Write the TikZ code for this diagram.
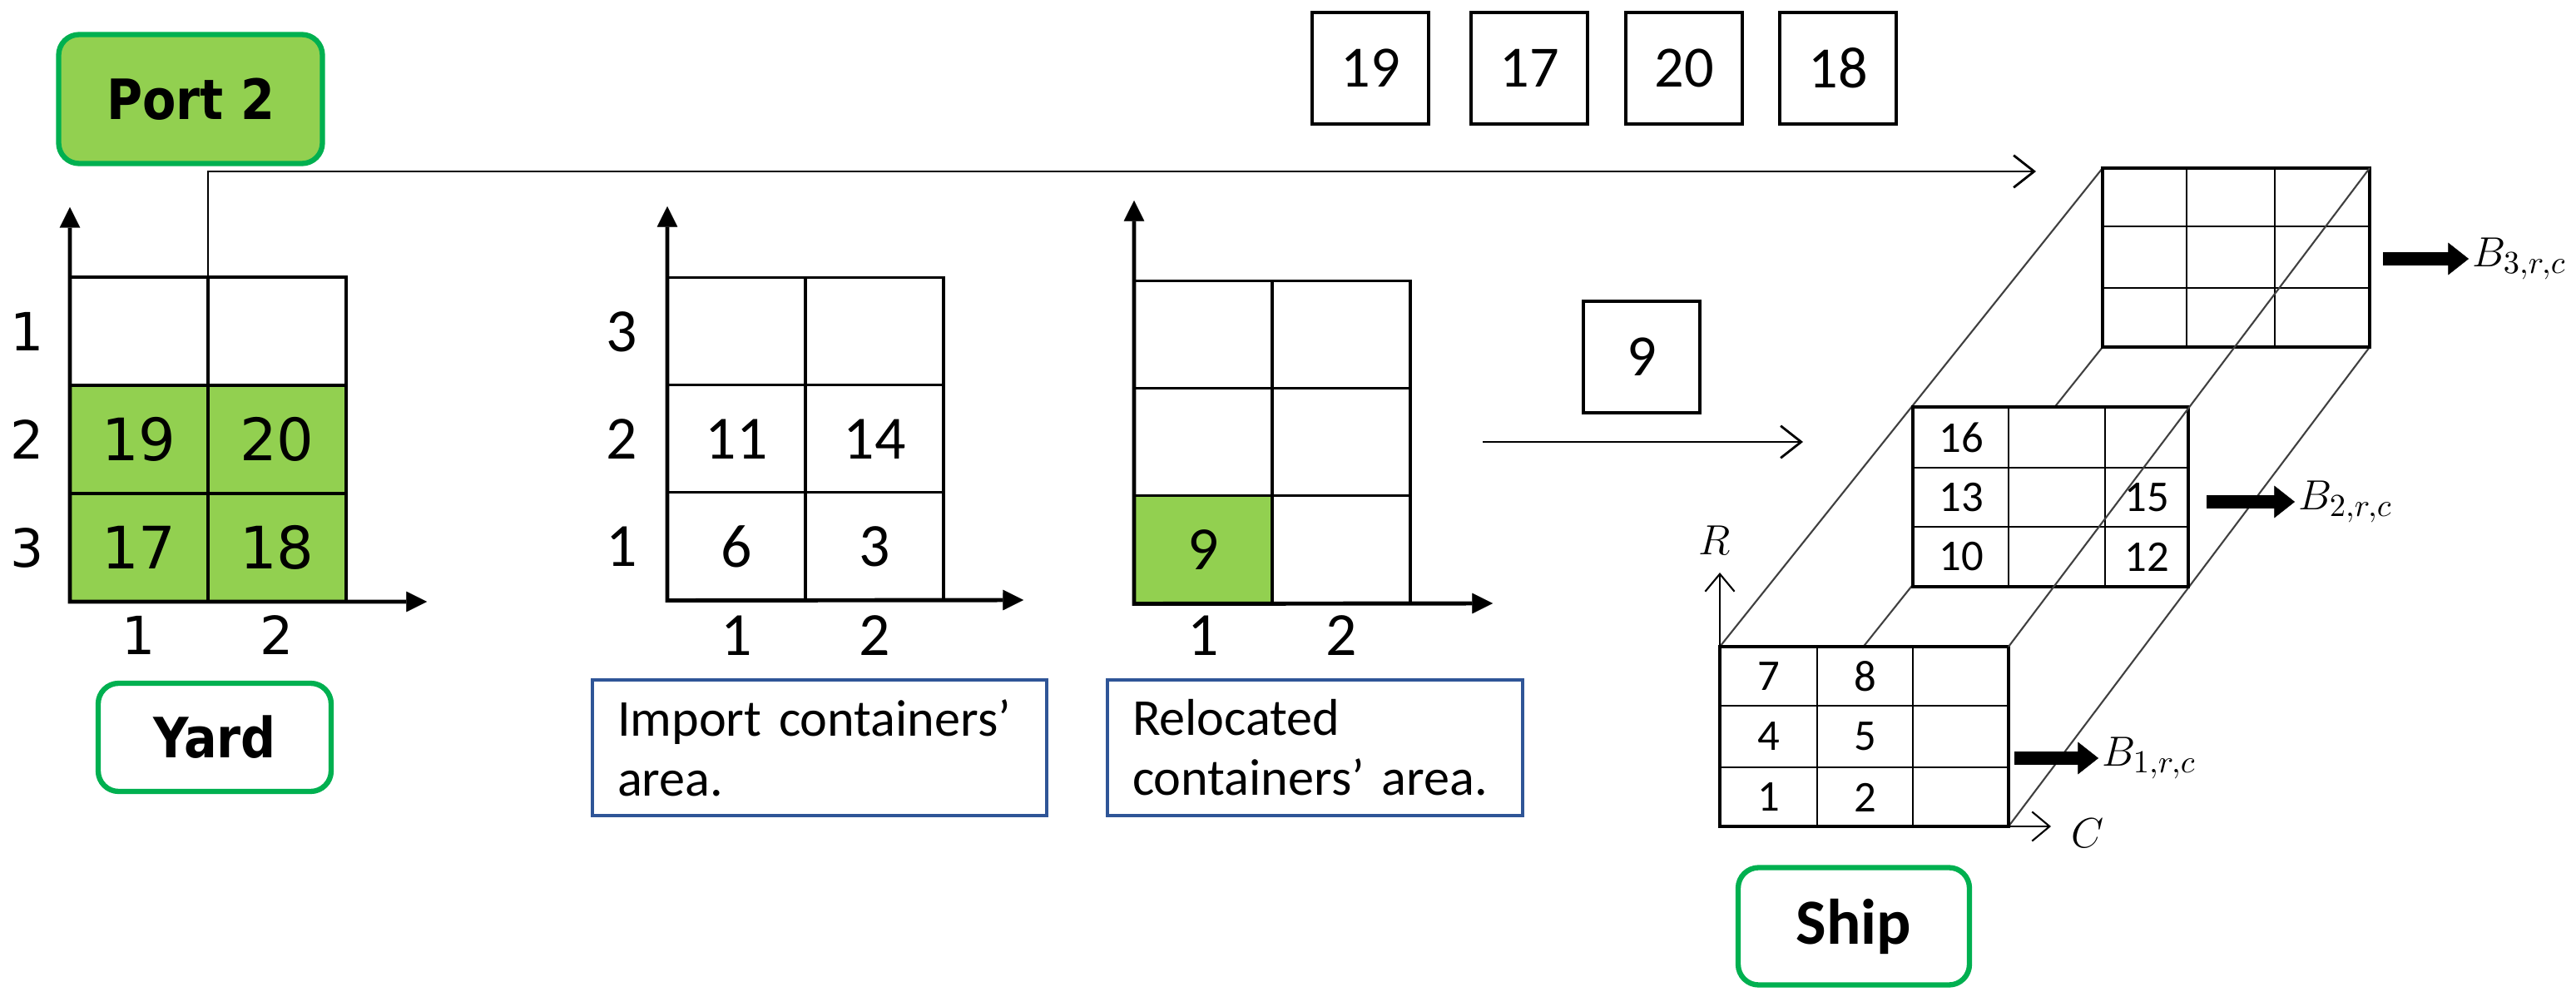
\documentclass[tikz,border=0pt]{standalone}
\usepackage{fontspec}
\setmainfont{Carlito}
\newfontfamily\verd{DejaVu Sans}
\newfontfamily\verdb[FakeStretch=0.88]{DejaVu Sans}
\usepackage{xcolor}
\usepackage{tikz}
\usetikzlibrary{arrows.meta,positioning,calc}
\definecolor{cgreen}{RGB}{146,208,80}
\definecolor{tgreen}{RGB}{0,176,80}
\definecolor{nblue}{RGB}{47,85,151}

\begin{document}
\begin{tikzpicture}[
    cell/.style={draw, line width=0.9pt, minimum width=1.66cm, minimum height=1.30cm, inner sep=0pt, outer sep=0pt},
    tag/.style={draw=tgreen, line width=1.8pt, rounded corners=7pt, inner sep=0pt, font=\verdb\bfseries\fontsize{19}{22}\selectfont},
    axis/.style={{Triangle[length=7pt,width=7pt,line width=0.1pt]}-{Triangle[length=7pt,width=7pt,line width=0.1pt]}, line width=1.4pt},
    flow/.style={-{Straight Barb[length=7pt,width=11pt]}, line width=0.8pt},
    thinax/.style={{Straight Barb[length=6pt,width=10pt]}-{Straight Barb[length=6pt,width=10pt]}, line width=0.6pt},
    cont/.style={draw, line width=1.4pt, minimum width=1.40cm, minimum height=1.34cm, font=\fontsize{20}{24}\selectfont},
    note/.style={draw=nblue, line width=0.9pt, anchor=north west, minimum height=1.63cm, inner xsep=0.3cm, outer sep=0pt, align=left, font=\fontsize{17.7}{20.5}\selectfont},
    axlbl/.style={inner sep=0pt},
    face/.style={fill=white, draw, line width=1.3pt},
    sep/.style={line width=0.8pt},
    edge3d/.style={line width=0.6pt, black!75},
    snum/.style={inner sep=0pt, font=\fontsize{15}{18}\selectfont},
    blk/.style={-{Triangle[length=7pt,width=11pt,line width=0.1pt]}, line width=4.8pt},
    lbl/.style={anchor=west, inner sep=1pt, font=\fontsize{15}{18}\selectfont},
]
\useasboundingbox (0,0) rectangle (30.96,-12.04);

\node[tag, fill=cgreen, minimum width=3.17cm, minimum height=1.55cm] (port) at (2.29,-1.19) {Port 2\hspace{0.26cm}};

\foreach \rw/\cl/\txt/\fl in {1/1//white,1/2//white,2/1/19/cgreen,2/2/20/cgreen,3/1/17/cgreen,3/2/18/cgreen}
  \node[cell, fill=\fl, font=\verd\fontsize{20}{24}\selectfont] (yd-\rw\cl) at ({0.84+(\cl-0.5)*1.66},{-3.33-(\rw-0.5)*1.30}) {\txt};
\foreach \rw in {1,2,3}
  \node[axlbl, font=\verd\fontsize{18}{22}\selectfont] (ydr-\rw) at (0.33,{-3.33-(\rw-0.5)*1.30}) {\rw};
\foreach \cl in {1,2}
  \node[axlbl, font=\verd\fontsize{18}{22}\selectfont] (ydc-\cl) at ({0.84+(\cl-0.5)*1.66},-7.63) {\cl};
\coordinate (ydY) at (0.84,-2.49);
\coordinate (ydX) at (5.13,-7.23);
\draw[axis] (ydY) -- (yd-31.south west) -- (ydX);
\node[tag, fill=white, minimum width=2.80cm, minimum height=1.30cm] (yard) at (2.58,-8.86) {Yard};

\foreach \rw/\cl/\txt/\fl in {1/1//white,1/2//white,2/1/11/white,2/2/14/white,3/1/6/white,3/2/3/white}
  \node[cell, fill=\fl, font=\fontsize{21}{25}\selectfont] (im-\rw\cl) at ({8.02+(\cl-0.5)*1.66},{-3.34-(\rw-0.5)*1.29}) {\txt};
\foreach \rw/\lab in {1/3,2/2,3/1}
  \node[axlbl, font=\fontsize{21}{25}\selectfont] (imr-\lab) at (7.47,{-3.34-(\rw-0.5)*1.29}) {\lab};
\foreach \cl in {1,2}
  \node[axlbl, font=\fontsize{21}{25}\selectfont] (imc-\cl) at ({8.02+(\cl-0.5)*1.66},-7.64) {\cl};
\coordinate (imY) at (8.02,-2.48);
\coordinate (imX) at (12.30,-7.21);
\draw[axis] (imY) -- (im-31.south west) -- (imX);
\node[note, text width=4.86cm] (imnote) at (7.12,-8.17) {Import containers’\\area.};

\foreach \rw/\cl/\txt/\fl in {1/1//white,1/2//white,2/1//white,2/2//white,3/1/9/cgreen,3/2//white}
  \node[cell, fill=\fl, font=\fontsize{21}{25}\selectfont] (rl-\rw\cl) at ({13.63+(\cl-0.5)*1.66},{-3.38-(\rw-0.5)*1.29}) {\txt};
\foreach \cl in {1,2}
  \node[axlbl, font=\fontsize{21}{25}\selectfont] (rlc-\cl) at ({13.63+(\cl-0.5)*1.66},-7.64) {\cl};
\coordinate (rlY) at (13.63,-2.41);
\coordinate (rlX) at (17.94,-7.25);
\draw[axis] (rlY) -- (rl-31.south west) -- (rlX);
\node[note, text width=4.39cm] (rlnote) at (13.31,-8.17) {Relocated\\containers’ area.};

\coordinate (shipIn) at (24.47,-2.06);
\draw[flow] (yd-11.north east) |- (shipIn);
\coordinate (rlOut) at (17.82,-5.31);
\coordinate (shipMid) at (21.67,-5.31);
\draw[flow] (rlOut) -- (shipMid);

\foreach \txt/\x [count=\i] in {19/16.47,17/18.38,20/20.24,18/22.09}
  \node[cont] (top-\i) at (\x,-0.82) {\txt};
\node[cont] (moved) at (19.73,-4.29) {9};

\coordinate (f1tl) at (20.67,-7.77);
\coordinate (f1tr) at (24.14,-7.77);
\coordinate (f1bl) at (20.67,-9.93);
\coordinate (f1br) at (24.14,-9.93);
\coordinate (f3tl) at (25.27,-2.02);
\coordinate (f3tr) at (28.48,-2.02);
\coordinate (f3bl) at (25.27,-4.17);
\coordinate (f3br) at (28.48,-4.17);
\draw[edge3d] (f1tl) -- (f3tl);
\draw[edge3d] (f1bl) -- (f3bl);
\draw[edge3d] (f1br) -- (f3br);

\draw[face] (f3bl) rectangle (f3tr);
\foreach \x in {26.28,27.34} \draw[sep] (\x,-2.02) -- (\x,-4.17);
\foreach \y in {-2.72,-3.46} \draw[sep] (25.27,\y) -- (28.48,\y);

\draw[face] (22.99,-7.05) rectangle (26.30,-4.89);
\foreach \x in {24.14,25.30} \draw[sep] (\x,-4.89) -- (\x,-7.05);
\foreach \y in {-5.62,-6.33} \draw[sep] (22.99,\y) -- (26.30,\y);

\draw[face] (f1bl) rectangle (f1tr);
\foreach \x in {21.84,22.99} \draw[sep] (\x,-7.77) -- (\x,-9.93);
\foreach \y in {-8.48,-9.22} \draw[sep] (20.67,\y) -- (24.14,\y);

\draw[edge3d] (f1tr) -- (f3tr);

\foreach \txt/\x/\y in {7/21.26/-8.13,8/22.42/-8.13,4/21.26/-8.85,5/22.42/-8.85,1/21.26/-9.58,2/22.42/-9.58,16/23.57/-5.26,13/23.57/-5.98,10/23.57/-6.69,15/25.80/-5.98,12/25.80/-6.69}
  \node[snum] (bay-\txt) at (\x,\y) {\txt};

\coordinate (rTip) at (20.67,-6.88);
\coordinate (cTip) at (24.65,-9.93);
\draw[thinax] (rTip) -- (f1bl) -- (cTip);
\node[lbl, anchor=center] (rlab) at (20.61,-6.49) {$R$};
\node[lbl, anchor=center] (clab) at (25.09,-10.01) {$C$};

\coordinate (b1s) at (24.21,-9.11);
\coordinate (b2s) at (26.52,-6.03);
\coordinate (b3s) at (28.64,-3.11);
\node[lbl] (b1) at (25.22,-9.11) {$B_{1,r,c}$};
\node[lbl] (b2) at (27.58,-6.03) {$B_{2,r,c}$};
\node[lbl] (b3) at (29.67,-3.11) {$B_{3,r,c}$};
\draw[blk] (b1s) -- (b1.west);
\draw[blk] (b2s) -- (b2.west);
\draw[blk] (b3s) -- (b3.west);

\node[tag, fill=white, font=\normalfont\bfseries\fontsize{22}{26}\selectfont, minimum width=2.78cm, minimum height=1.41cm] (ship) at (22.28,-11.13) {Ship};
\end{tikzpicture}
\end{document}
